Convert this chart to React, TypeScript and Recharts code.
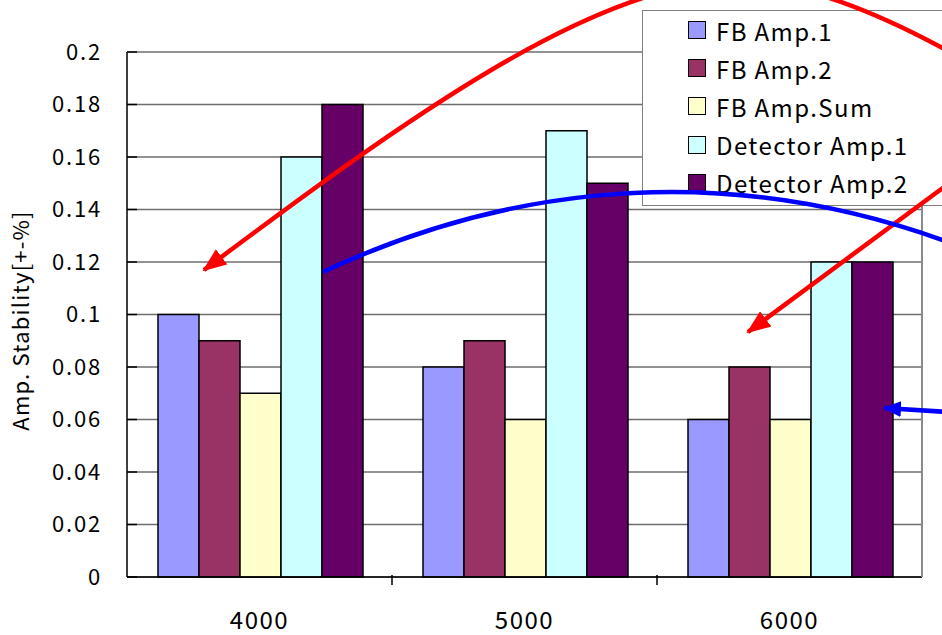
import React from 'react';
import { BarChart, Bar, XAxis, YAxis, CartesianGrid, Legend } from 'recharts';

const categories = ['4000', '5000', '6000'];
const fbAmp1 = [0.1, 0.08, 0.06];
const fbAmp2 = [0.09, 0.09, 0.08];
const fbAmpSum = [0.07, 0.06, 0.06];
const detectorAmp1 = [0.16, 0.17, 0.12];
const detectorAmp2 = [0.18, 0.15, 0.12];
const yTicks = [0, 0.02, 0.04, 0.06, 0.08, 0.1, 0.12, 0.14, 0.16, 0.18, 0.2];

const seriesNames = ['FB Amp.1', 'FB Amp.2', 'FB Amp.Sum', 'Detector Amp.1', 'Detector Amp.2'];
const COLORS = ['#9999FF', '#993366', '#FFFFCC', '#CCFFFF', '#660066'];

const FONT = '"Noto Sans CJK JP", "Noto Sans", sans-serif';
const W = 942;
const H = 635;
const PLOT_LEFT = 127;
const PLOT_RIGHT = 922;

const seriesValues = [fbAmp1, fbAmp2, fbAmpSum, detectorAmp1, detectorAmp2];

const data = categories.map((c, i) => {
  const row: Record<string, string | number> = { name: c };
  seriesValues.forEach((vals, s) => {
    row[`s${s}`] = vals[i];
  });
  return row;
});

// y tick: label on the left, short tick mark pointing into the plot
const YTick = (props: any) => {
  const { x, y, payload } = props;
  return (
    <g>
      <line x1={x + 27} x2={x + 37} y1={y} y2={y} stroke="#000" strokeWidth={1.5} />
      <text x={x + 2} y={y} dy={7.5} textAnchor="end" fontFamily={FONT} fontSize={22} letterSpacing={1.8} fill="#000">
        {String(payload.value)}
      </text>
    </g>
  );
};

// x tick: category label, plus an inward tick at the left edge of each band
const XTick = (props: any) => {
  const { x, y, payload, index } = props;
  const band = (PLOT_RIGHT - PLOT_LEFT) / categories.length;
  return (
    <g>
      {index > 0 && (
        <line x1={x - band / 2} x2={x - band / 2} y1={y} y2={y - 10} stroke="#000" strokeWidth={1.5} />
      )}
      <text x={x} y={y + 44} textAnchor="middle" fontFamily={FONT} fontSize={24} letterSpacing={1.5} fill="#000">
        {payload.value}
      </text>
    </g>
  );
};

const LegendBox = (props: any) => {
  const items = [...(props.payload || [])].sort(
    (a: any, b: any) => seriesNames.indexOf(a.value) - seriesNames.indexOf(b.value)
  );
  return (
    <div
      style={{
        boxSizing: 'border-box',
        width: 320,
        height: 196,
        background: '#fff',
        border: '1.5px solid #808080',
        paddingTop: 0,
        paddingLeft: 45,
        fontFamily: FONT,
      }}
    >
      {items.map((it: any) => (
        <div key={it.value} style={{ display: 'flex', alignItems: 'center', height: 38.2 }}>
          <span
            style={{
              display: 'inline-block',
              width: 16,
              height: 16,
              background: it.color,
              border: '1.5px solid #000',
              marginRight: 10,
            }}
          />
          <span style={{ fontSize: 24, letterSpacing: 1.4, color: '#000' }}>{it.value}</span>
        </div>
      ))}
    </div>
  );
};

// hand-drawn annotation arrows laid over the chart
const Annotations = () => (
  <svg width={W} height={H} style={{ position: 'absolute', left: 0, top: 0, pointerEvents: 'none' }}>
    <defs>
      <marker id="redHead" viewBox="0 0 24 19" markerWidth={24} markerHeight={19} refX={22} refY={9.5}
        orient="auto-start-reverse" markerUnits="userSpaceOnUse">
        <path d="M0,0 L24,9.5 L0,19 z" fill="#FF0000" />
      </marker>
      <marker id="blueHead" viewBox="0 0 18 16" markerWidth={18} markerHeight={16} refX={17} refY={8}
        orient="auto-start-reverse" markerUnits="userSpaceOnUse">
        <path d="M0,0 L18,8 L0,16 z" fill="#0000FF" />
      </marker>
    </defs>
    {/* big arc: arrow tip on the left, apex just above the top edge */}
    <path d="M 204 270 C 404 120 596 -19 736 -19 C 876 -19 1069 120 1269 270" fill="none" stroke="#FF0000"
      strokeWidth={4.5} markerStart="url(#redHead)" />
    <path d="M 948 184 L 748 332" fill="none" stroke="#FF0000" strokeWidth={4.5} markerEnd="url(#redHead)" />
    <path d="M 323 272 C 470 203 690 148 948 242" fill="none" stroke="#0000FF" strokeWidth={4.5} />
    <path d="M 948 412 L 884 408" fill="none" stroke="#0000FF" strokeWidth={4.5} markerEnd="url(#blueHead)" />
  </svg>
);

export default function App() {
  return (
    <div style={{ position: 'absolute', left: 0, top: 0, width: W, height: H, overflow: 'hidden', background: '#fff' }}>
      <BarChart
        width={W}
        height={H}
        data={data}
        margin={{ top: 52, right: 0, bottom: 0, left: 0 }}
        barCategoryGap="11.7%"
        barGap={0}
      >
        <CartesianGrid vertical={false} stroke="#6e6e6e" strokeWidth={1.5} />
        <XAxis
          dataKey="name"
          height={58}
          axisLine={{ stroke: '#000', strokeWidth: 1.5 }}
          tickLine={false}
          tick={<XTick />}
          interval={0}
        />
        <YAxis
          width={PLOT_LEFT}
          domain={[0, 0.2]}
          ticks={yTicks}
          axisLine={{ stroke: '#000', strokeWidth: 1.5 }}
          tickLine={false}
          tickSize={0}
          tickMargin={27}
          tick={<YTick />}
          label={{
            value: 'Amp. Stability[+-%]',
            angle: -90,
            position: 'insideLeft',
            dx: 16,
            dy: 6,
            style: { fontFamily: FONT, fontSize: 22, fill: '#000', letterSpacing: 1.2, textAnchor: 'middle' },
          }}
        />
        <YAxis
          yAxisId="frame"
          orientation="right"
          width={W - PLOT_RIGHT}
          domain={[0, 0.2]}
          tick={false}
          tickLine={false}
          axisLine={{ stroke: '#8a8a8a', strokeWidth: 2 }}
        />
        <Legend
          layout="vertical"
          verticalAlign="middle"
          align="center"
          content={<LegendBox />}
          wrapperStyle={{ left: 642, top: 10, width: 320, height: 196 }}
        />
        {seriesValues.map((_, i) => (
          <Bar
            key={i}
            dataKey={`s${i}`}
            name={seriesNames[i]}
            fill={COLORS[i]}
            stroke="#000"
            strokeWidth={1.5}
            isAnimationActive={false}
          />
        ))}
      </BarChart>
      <Annotations />
    </div>
  );
}
